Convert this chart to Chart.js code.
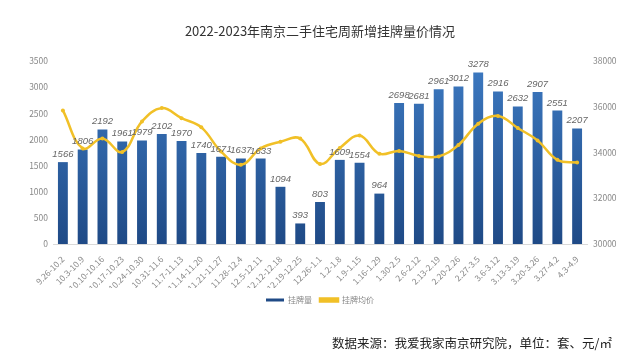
<!DOCTYPE html>
<html>
<head>
<meta charset="utf-8">
<script src="https://cdn.jsdelivr.net/npm/chart.js@4"></script>
<style>
  body { margin: 0; background: #fff; }
  .wrap { position: relative; width: 640px; height: 362px; }
  .title {
    position: absolute; left: 0; top: 21px; width: 640px; text-align: center;
    font: 13px "Noto Sans CJK SC", sans-serif; color: #333;
  }
  .source {
    position: absolute; right: 28px; top: 333px;
    font: 12.5px "Noto Sans CJK SC", sans-serif; color: #222;
  }
</style>
</head>
<body>
<div class="wrap">
  <canvas id="chartCanvas" width="640" height="362"></canvas>
  <div class="title">2022-2023年南京二手住宅周新增挂牌量价情况</div>
  <div class="source">数据来源：我爱我家南京研究院，单位：套、元/㎡</div>
</div>
<script>
// 周区间
const weeks = ['9.26-10.2', '10.3-10.9', '10.10-10.16', '10.17-10.23', '10.24-10.30', '10.31-11.6',
  '11.7-11.13', '11.14-11.20', '11.21-11.27', '11.28-12.4', '12.5-12.11', '12.12-12.18',
  '12.19-12.25', '12.26-1.1', '1.2-1.8', '1.9-1.15', '1.16-1.29', '1.30-2.5', '2.6-2.12',
  '2.13-2.19', '2.20-2.26', '2.27-3.5', '3.6-3.12', '3.13-3.19', '3.20-3.26', '3.27-4.2', '4.3-4.9'];

// 挂牌量（套）
const listings = [1566, 1806, 2192, 1961, 1979, 2102, 1970, 1740, 1671, 1637, 1633, 1094, 393, 803,
  1609, 1554, 964, 2698, 2681, 2961, 3012, 3278, 2916, 2632, 2907, 2551, 2207];

// 挂牌均价（元/㎡）
const avgPrice = [35840, 34180, 34610, 34020, 35360, 35940, 35500, 35100, 34040, 33460, 34180, 34470,
  34610, 33500, 34200, 34740, 33950, 34070, 33850, 33830, 34330, 35260, 35600, 35070, 34530, 33680, 33560];

const axisFont = { family: '"Noto Sans CJK SC", sans-serif', size: 8.5 };

// 柱子渐变
function barGradient(context) {
  const area = context.chart.chartArea;
  if (!area) return '#2f65a8';
  const g = context.chart.ctx.createLinearGradient(0, area.top, 0, area.bottom);
  g.addColorStop(0, '#3d7ac2');
  g.addColorStop(1, '#1f4a86');
  return g;
}

// 柱顶数值标签
const barLabels = {
  id: 'barLabels',
  afterDatasetsDraw(chart) {
    const ctx = chart.ctx;
    const meta = chart.getDatasetMeta(0);
    ctx.save();
    ctx.font = 'italic 9.5px "Liberation Sans", sans-serif';
    ctx.fillStyle = '#666';
    ctx.textAlign = 'center';
    ctx.textBaseline = 'bottom';
    meta.data.forEach((bar, i) => {
      ctx.fillText(listings[i], bar.x, bar.y - 3);
    });
    ctx.restore();
  }
};

new Chart(document.getElementById('chartCanvas'), {
  data: {
    labels: weeks,
    datasets: [
      {
        type: 'bar',
        label: '挂牌量',
        data: listings,
        yAxisID: 'y',
        backgroundColor: barGradient,
        barPercentage: 0.5,
        categoryPercentage: 1,
        order: 2
      },
      {
        type: 'line',
        label: '挂牌均价',
        data: avgPrice,
        yAxisID: 'y1',
        borderColor: '#f1c027',
        backgroundColor: '#f1c027',
        borderWidth: 2.5,
        pointRadius: 2,
        pointBackgroundColor: '#f1c027',
        pointBorderWidth: 0,
        tension: 0.4,
        order: 1
      }
    ]
  },
  options: {
    responsive: false,
    animation: false,
    layout: { padding: { top: 61, bottom: 48, left: 0, right: 0 } },
    plugins: {
      legend: {
        position: 'bottom',
        labels: {
          boxWidth: 18,
          boxHeight: 3,
          padding: 8,
          color: '#888',
          font: { family: '"Noto Sans CJK SC", sans-serif', size: 8 },
          sort: (a, b) => a.datasetIndex - b.datasetIndex
        }
      },
      tooltip: { enabled: false }
    },
    scales: {
      x: {
        grid: { display: false },
        border: { color: '#d9d9d9' },
        ticks: {
          autoSkip: false, minRotation: 45, maxRotation: 45,
          color: '#888', font: axisFont, padding: 2
        },
        afterFit(scale) { scale.height = 44; }
      },
      y: {
        position: 'left',
        min: 0, max: 3500,
        ticks: { stepSize: 500, color: '#888', font: axisFont, padding: 5, callback: v => String(v) },
        grid: { display: false, drawTicks: false },
        border: { display: false },
        afterFit(scale) { scale.width = 53; }
      },
      y1: {
        position: 'right',
        min: 30000, max: 38000,
        ticks: { stepSize: 2000, color: '#888', font: axisFont, padding: 6, callback: v => String(v) },
        grid: { display: false, drawTicks: false },
        border: { display: false },
        afterFit(scale) { scale.width = 53; }
      }
    }
  },
  plugins: [barLabels]
});
</script>
</body>
</html>
